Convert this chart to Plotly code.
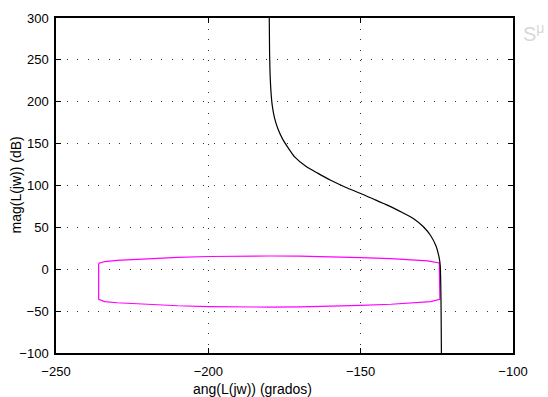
import plotly.graph_objects as go

# Nichols curve of L(jw): phase (deg) and magnitude (dB)
curve_phase = [-180.0, -179.9, -179.7, -179.4, -179.0, -178.3, -177.2, -175.7, -173.8,
               -171.5, -168.0, -164.0, -160.0, -155.0, -150.0, -145.0, -142.5, -140.0,
               -136.5, -132.5, -129.5, -127.0, -125.3, -124.3, -123.9, -123.7, -123.6,
               -123.5]
curve_mag = [300, 260, 230, 210, 195, 181, 168, 156, 145,
             133.5, 123, 114.5, 106.5, 98, 90.5, 82.5, 78.5, 74.5,
             68, 60, 51, 40, 28, 15, 5, -20, -50,
             -100]

# Closed contour (disc boundary) in the Nichols plane
disc_phase = [-236, -234, -230, -225, -220, -210, -200, -190, -180, -170, -160, -150,
              -140, -132, -128, -124.2,
              -124.0,
              -127, -132, -140, -150, -160, -170, -180, -190, -200, -210, -220,
              -225, -230, -234, -236, -236]
disc_mag = [7, 9.2, 10.5, 11.6, 12.6, 14.2, 15.2, 15.7, 15.8, 15.6, 15.0, 14.0,
            12.6, 11.0, 10.0, 7.5,
            -36,
            -38.6, -40.0, -41.8, -43.2, -44.3, -45.0, -45.2, -45.0, -44.6, -43.6, -42.2,
            -41.2, -40.0, -38.6, -36, 7]

x_ticks = [-250, -200, -150, -100]
y_ticks = [-100, -50, 0, 50, 100, 150, 200, 250, 300]

fig = go.Figure()
fig.add_trace(go.Scatter(x=disc_phase, y=disc_mag, mode="lines",
                         line=dict(color="#ff00ff", width=1.2), showlegend=False,
                         hoverinfo="skip"))
fig.add_trace(go.Scatter(x=curve_phase, y=curve_mag, mode="lines",
                         line=dict(color="black", width=1.2, shape="spline", smoothing=0.8),
                         showlegend=False, hoverinfo="skip"))

font = "Liberation Sans, Arial, Helvetica, sans-serif"
axis_common = dict(
    showline=True, linecolor="black", linewidth=1.5, mirror="ticks",
    ticks="inside", ticklen=5, tickcolor="black", tickwidth=1,
    showgrid=True, gridcolor="#333333", gridwidth=1, griddash="1px,9.5px",
    zeroline=False, tickfont=dict(family=font, size=13, color="black"),
)
fig.update_xaxes(range=[-250, -100], tickvals=x_ticks,
                 ticktext=["\u2212" + str(abs(v)) for v in x_ticks],
                 ticklabelstandoff=6, **axis_common)
fig.update_yaxes(range=[-100, 300], tickvals=y_ticks,
                 ticktext=[("\u2212" + str(abs(v))) if v < 0 else str(v) for v in y_ticks],
                 ticklabelstandoff=3, **axis_common)

fig.update_layout(
    width=548, height=397,
    margin=dict(l=56, r=35, t=11, b=44),
    paper_bgcolor="white", plot_bgcolor="white",
    font=dict(family=font, size=13, color="black"),
    annotations=[
        dict(text="ang(L(jw)) (grados)", xref="paper", yref="paper",
             x=0.43, y=-0.0, yshift=-36, xanchor="center", yanchor="middle",
             showarrow=False, font=dict(family=font, size=14, color="black")),
        dict(text="mag(L(jw)) (dB)", xref="paper", yref="paper",
             x=0, xshift=-41, y=0.5, textangle=-90, xanchor="center", yanchor="middle",
             showarrow=False, font=dict(family=font, size=14, color="black")),
        dict(text="S<sup>\u03bc</sup>", xref="paper", yref="paper",
             x=1, xshift=20, y=1, yshift=-14, xanchor="center", yanchor="middle",
             showarrow=False, font=dict(family=font, size=20, color="#d8d8d8")),
    ],
)

fig.write_html("out.html")
